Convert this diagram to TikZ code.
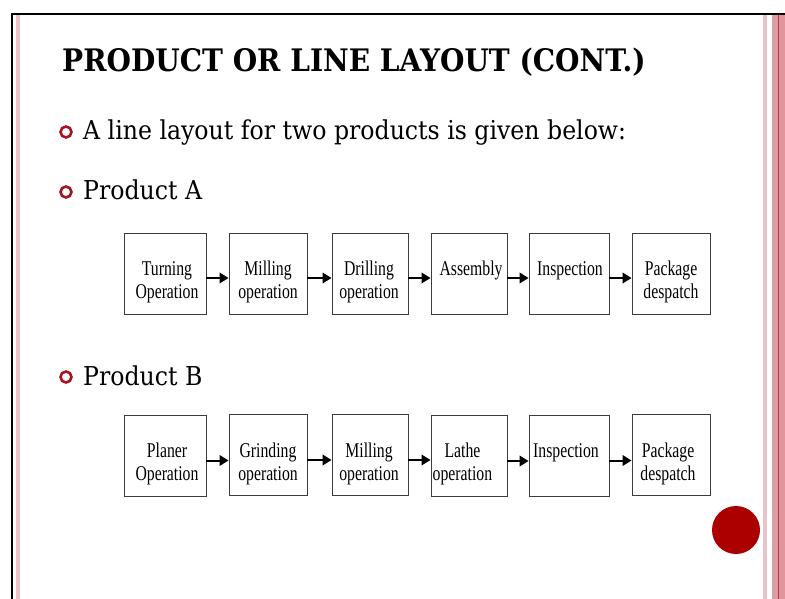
\documentclass[tikz,border=0pt]{standalone}
\usepackage{fontspec}
\usetikzlibrary{arrows.meta}
\newfontfamily\boxfont[FakeStretch=0.75]{Liberation Serif}
\newfontfamily\bodyfont[FakeStretch=0.908]{DejaVu Serif}
\newfontfamily\titlefont[FakeStretch=0.905]{DejaVu Serif}
\definecolor{bulletred}{RGB}{170,20,30}
\definecolor{dotred}{RGB}{172,0,0}
\definecolor{pinkA}{RGB}{232,196,200}
\definecolor{pinkB}{RGB}{216,160,166}
\definecolor{pinkC}{RGB}{226,150,156}
\definecolor{redline}{RGB}{185,55,65}
\definecolor{boxgray}{RGB}{60,60,60}
\tikzset{
  stepbox/.style={draw=boxgray, line width=0.9pt, minimum width=#1, minimum height=81pt, inner sep=0pt},
  boxtxt/.style={font=\boxfont\fontsize{21}{23}\selectfont, align=center, inner sep=0pt, anchor=north},
  flowarrow/.style={line width=2pt, -{Triangle[length=9pt,width=10.5pt]}},
  bodytxt/.style={font=\bodyfont\fontsize{26}{30}\selectfont, anchor=base west, inner sep=0pt},
  bulletring/.style={circle, draw=bulletred, line width=2.6pt, minimum size=11pt, inner sep=0pt},
}
\begin{document}
\begin{tikzpicture}[x=1pt,y=-1pt]
\useasboundingbox (0,0) rectangle (785,599);
\fill[white] (0,0) rectangle (785,599);
% frame
\fill[pinkA] (16,15) rectangle (19.5,599);
\fill[pinkA] (763,15) rectangle (766.5,599);
\fill[pinkB] (772,15) rectangle (777.5,599);
\fill[redline] (777.5,15) rectangle (779,599);
\fill[pinkC] (779,15) rectangle (785,599);
\draw[line width=2pt] (11.5,599) -- (11.5,14) -- (785,14);
% title
\node[font=\titlefont\bfseries\fontsize{31}{36}\selectfont, anchor=base west, inner sep=0pt] (title) at (62,72) {PRODUCT OR LINE LAYOUT (CONT.)};
% bullets
\node[bulletring] (b1) at (66,132) {};
\node[bodytxt] (t1) at (83,140) {A line layout for two products is given below:};
\node[bulletring] (b2) at (66,192) {};
\node[bodytxt] (t2) at (83,200) {Product A};
\node[bulletring] (b3) at (66,377) {};
\node[bodytxt] (t3) at (83,385) {Product B};
% row A
\node[stepbox=82pt] (a1) at (165,274) {};
\node[stepbox=78pt] (a2) at (268,274) {};
\node[stepbox=76pt] (a3) at (370,274) {};
\node[stepbox=76pt] (a4) at (469,274) {};
\node[stepbox=80pt] (a5) at (569,274) {};
\node[stepbox=78pt] (a6) at (671,273.5) {};
\node[boxtxt] (la1) at (167,261) {Turning\\Operation};
\node[boxtxt] (la2) at (268,261) {Milling\\operation};
\node[boxtxt] (la3) at (369,261) {Drilling\\operation};
\node[boxtxt] (la4) at (471,261) {Assembly};
\node[boxtxt] (la5) at (570,261) {Inspection};
\node[boxtxt] (la6) at (671,261) {Package\\despatch};
\foreach \i/\j in {a1/a2,a2/a3,a3/a4,a4/a5,a5/a6}
  \draw[flowarrow] ([yshift=-4pt]\i.east) -- ([yshift=-4pt]\i.east -| \j.west);
% row B
\node[stepbox=82pt] (p1) at (165,455.5) {};
\node[stepbox=78pt] (p2) at (268,455) {};
\node[stepbox=76pt] (p3) at (370,455) {};
\node[stepbox=76pt] (p4) at (469,456) {};
\node[stepbox=80pt] (p5) at (569,455.5) {};
\node[stepbox=78pt] (p6) at (671,454.5) {};
\node[boxtxt] (lb1) at (167,443) {Planer\\Operation};
\node[boxtxt] (lb2) at (268,443) {Grinding\\operation};
\node[boxtxt] (lb3) at (369,443) {Milling\\operation};
\node[boxtxt, anchor=north west] (lb4) at (432.5,443) {Lathe\\operation};
\node[boxtxt] (lb5) at (566,443) {Inspection};
\node[boxtxt] (lb6) at (668,443) {Package\\despatch};
\foreach \i/\j in {p1/p2,p2/p3,p3/p4,p4/p5,p5/p6}
  \draw[flowarrow] ([yshift=-5pt]\i.east) -- ([yshift=-5pt]\i.east -| \j.west);
% red dot
\node[circle, fill=dotred, minimum size=48pt, inner sep=0pt] (dot) at (736,530) {};
\end{tikzpicture}
\end{document}
